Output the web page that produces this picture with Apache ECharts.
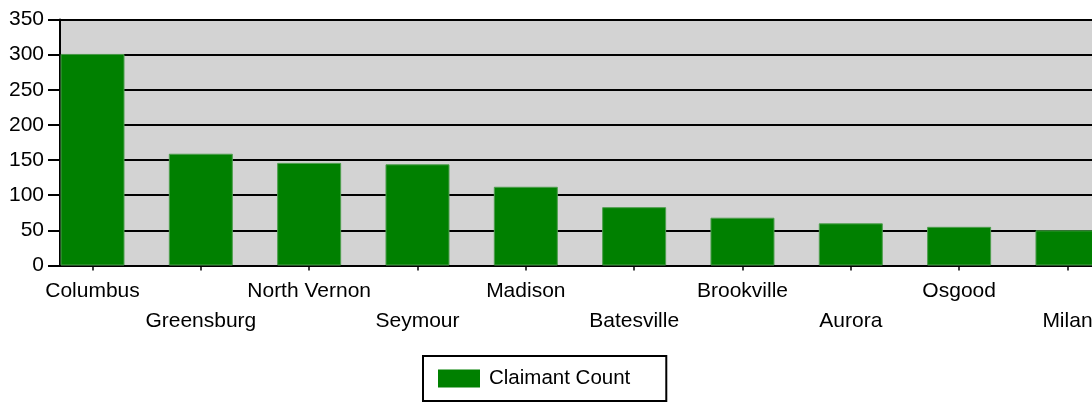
<!DOCTYPE html>
<html>
<head>
<meta charset="utf-8">
<script src="https://cdn.jsdelivr.net/npm/echarts@6/dist/echarts.min.js"></script>
<style>
html,body{margin:0;padding:0;background:#fff;}
#chart{width:1092px;height:404px;}
</style>
</head>
<body>
<div id="chart"></div>
<script>
const categories = ['Columbus','Greensburg','North Vernon','Seymour','Madison','Batesville','Brookville','Aurora','Osgood','Milan'];
const claimantCount = [301, 159, 146, 144, 112, 83, 68, 60, 55, 50];
const yTicks = [0, 50, 100, 150, 200, 250, 300, 350];

const positions = categories.map((c, i) => i);
const barData = claimantCount.map((v, i) => [positions[i], v]);
const FONT = 'Liberation Sans, Arial, sans-serif';

const chart = echarts.init(document.getElementById('chart'));
chart.setOption({
  animation: false,
  backgroundColor: '#ffffff',
  textStyle: { fontFamily: FONT, color: '#000' },
  grid: {
    left: 60, top: 19.5, width: 1100, height: 246,
    outerBoundsMode: 'none',
    containLabel: false,
    show: true, backgroundColor: '#D3D3D3', borderWidth: 0
  },
  xAxis: {
    type: 'value',
    min: -0.3,
    max: -0.3 + 1100 / 108.33,
    splitLine: { show: false },
    axisLine: { show: true, onZero: false, lineStyle: { color: '#000', width: 2 } },
    axisTick: { show: true, length: 5, customValues: positions, lineStyle: { color: '#000', width: 1.5 } },
    axisLabel: {
      customValues: positions,
      margin: 11,
      fontSize: 21,
      lineHeight: 30,
      color: '#000',
      fontFamily: FONT,
      formatter: function (val) {
        const i = Math.round(val);
        const name = categories[i] || '';
        return i % 2 === 1 ? '\n' + name : name;
      }
    }
  },
  yAxis: {
    type: 'value',
    min: yTicks[0],
    max: yTicks[yTicks.length - 1],
    interval: 50,
    axisLine: { show: true, onZero: false, lineStyle: { color: '#000', width: 2 } },
    axisTick: { show: true, length: 12, lineStyle: { color: '#000', width: 2 } },
    splitLine: { show: true, lineStyle: { color: '#000', width: 2 } },
    axisLabel: { margin: 16, fontSize: 21, color: '#000', fontFamily: FONT }
  },
  legend: {
    show: true,
    left: 423,
    top: 356,
    icon: 'rect',
    itemWidth: 42,
    itemHeight: 18,
    itemGap: 10,
    padding: [12, 36, 12, 15],
    borderColor: '#000',
    borderWidth: 2,
    backgroundColor: '#fff',
    itemStyle: { borderWidth: 0 },
    textStyle: { fontSize: 20.5, color: '#000', fontFamily: FONT, padding: [0, 0, 0, 4] },
    data: ['Claimant Count']
  },
  series: [{
    name: 'Claimant Count',
    type: 'bar',
    barWidth: 64,
    data: barData,
    itemStyle: { color: '#008000', borderColor: '#4E9E4E', borderWidth: 1 }
  }]
});
</script>
</body>
</html>
